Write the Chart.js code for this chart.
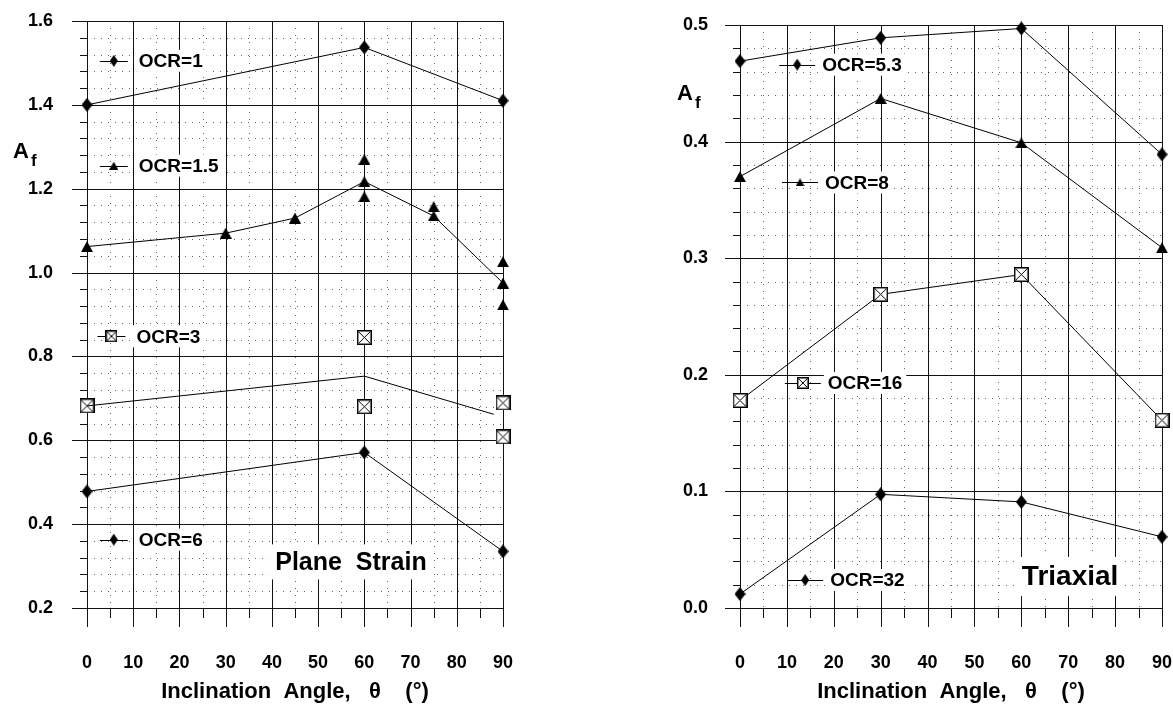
<!DOCTYPE html>
<html>
<head>
<meta charset="utf-8">
<script src="https://cdn.jsdelivr.net/npm/chart.js@4.4.1/dist/chart.umd.min.js"></script>
<style>
  html, body { margin: 0; padding: 0; background: #fff; }
  #wrap { position: relative; width: 1173px; height: 709px; }
  #left { position: absolute; left: 0; top: 0; }
  #right { position: absolute; left: 560px; top: 0; }
</style>
</head>
<body>
<div id="wrap">
  <canvas id="left" width="560" height="709"></canvas>
  <canvas id="right" width="613" height="709"></canvas>
</div>
<script>
// ---- data ----
// plane strain
const ocr1X = [0, 60, 90];
const ocr1Y = [1.40, 1.537, 1.41];
const ocr15X = [0, 30, 45, 60, 75, 90];
const ocr15Y = [1.062, 1.094, 1.13, 1.217, 1.135, 0.975];
const ocr15ExtraX = [60, 60, 75, 90, 90];
const ocr15ExtraY = [1.270, 1.181, 1.157, 1.026, 0.923];
const ocr3X = [0, 60, 60, 90, 90];
const ocr3Y = [0.682, 0.845, 0.680, 0.689, 0.608];
const ocr3TrendX = [0, 60, 88];
const ocr3TrendY = [0.682, 0.753, 0.662];
const ocr6X = [0, 60, 90];
const ocr6Y = [0.478, 0.571, 0.335];

// triaxial
const triX = [0, 30, 60, 90];
const ocr53Y = [0.469, 0.489, 0.497, 0.389];
const ocr8Y = [0.370, 0.437, 0.399, 0.309];
const ocr16Y = [0.178, 0.269, 0.286, 0.161];
const ocr32Y = [0.012, 0.0975, 0.091, 0.061];

const angleTicks = [0, 10, 20, 30, 40, 50, 60, 70, 80, 90];

const FONT = '"Liberation Sans", Arial, Helvetica, sans-serif';

// ---- marker shapes ----
function makeDiamond(w, h) {
    const c = document.createElement('canvas');
    c.width = w; c.height = h;
    const g = c.getContext('2d');
    g.fillStyle = '#000';
    g.beginPath();
    g.moveTo(w / 2, 0); g.lineTo(w, h / 2); g.lineTo(w / 2, h); g.lineTo(0, h / 2);
    g.closePath(); g.fill();
    return c;
}
function makeTriangle(w, h) {
    const c = document.createElement('canvas');
    c.width = w; c.height = h;
    const g = c.getContext('2d');
    g.fillStyle = '#000';
    g.beginPath();
    g.moveTo(w / 2, 0); g.lineTo(w, h); g.lineTo(0, h);
    g.closePath(); g.fill();
    return c;
}
function makeBox(s) {
    const c = document.createElement('canvas');
    c.width = s; c.height = s;
    const g = c.getContext('2d');
    g.fillStyle = '#fff';
    g.fillRect(0, 0, s, s);
    g.strokeStyle = '#000';
    g.lineWidth = 1.5;
    g.strokeRect(0.75, 0.75, s - 1.5, s - 1.5);
    g.lineWidth = 1;
    g.beginPath();
    g.moveTo(2, 2); g.lineTo(s - 2, s - 2);
    g.moveTo(s - 2, 2); g.lineTo(2, s - 2);
    g.stroke();
    return c;
}

const diamond = makeDiamond(11, 14);
const triangle = makeTriangle(12, 11);
const box = makeBox(15);
const diamondSmall = makeDiamond(8, 12);
const triangleSmall = makeTriangle(9, 8);
const boxSmall = makeBox(12);

function series(xs, ys, marker, showLine) {
    return {
        data: xs.map((x, i) => ({ x: x, y: ys[i] })),
        showLine: showLine,
        borderColor: '#000',
        borderWidth: 1,
        backgroundColor: '#000',
        pointStyle: marker || 'circle',
        pointRadius: marker ? 6 : 0,
        clip: false
    };
}

// ---- plugin: graph paper grid ----
const paperGrid = {
    id: 'paperGrid',
    beforeDatasetsDraw(chart, args, o) {
        const { ctx, chartArea: a } = chart;
        const x = chart.scales.x, y = chart.scales.y;
        const line = (x1, y1, x2, y2) => {
            ctx.beginPath(); ctx.moveTo(x1, y1); ctx.lineTo(x2, y2); ctx.stroke();
        };
        const px = v => Math.round(x.getPixelForValue(v)) + 0.5;
        const py = v => Math.round(y.getPixelForValue(v)) + 0.5;
        ctx.save();
        ctx.lineWidth = 1;

        // dotted minor grid
        ctx.strokeStyle = '#666';
        ctx.setLineDash([1, 6]);
        for (let v = 5; v < 90; v += 10) line(px(v), a.top, px(v), a.bottom);
        for (let i = 1; i < o.steps; i++) {
            if (i % 5 === 0) continue;
            const v = o.min + i * o.minor;
            line(a.left, py(v), a.right, py(v));
        }
        ctx.setLineDash([]);

        // solid major grid and ticks
        ctx.strokeStyle = '#111';
        for (let v = 0; v <= 90; v += 10) line(px(v), a.top, px(v), a.bottom + 19);
        for (let v = 5; v < 90; v += 10) line(px(v), a.bottom, px(v), a.bottom + 10);
        for (let i = 0; i <= o.steps; i++) {
            const v = o.min + i * o.minor;
            if (i % 5 === 0) line(a.left - 15, py(v), a.right, py(v));
            else line(a.left - 7, py(v), a.left, py(v));
        }
        ctx.restore();
    }
};

// ---- plugin: in-plot legend keys, panel title, A_f ----
const paperLabels = {
    id: 'paperLabels',
    afterDatasetsDraw(chart, args, o) {
        const { ctx, chartArea: a } = chart;
        const x = chart.scales.x, y = chart.scales.y;
        ctx.save();
        ctx.textBaseline = 'middle';
        ctx.textAlign = 'left';
        ctx.font = 'bold 19px ' + FONT;
        o.keys.forEach(k => {
            const cx = x.getPixelForValue(k.x), cy = y.getPixelForValue(k.y);
            const tx = cx + o.textGap;
            const tw = ctx.measureText(k.text).width;
            ctx.fillStyle = '#fff';
            ctx.fillRect(tx - 4, cy - 11, tw + 8, 22);
            ctx.strokeStyle = '#000';
            ctx.lineWidth = 1;
            ctx.beginPath();
            ctx.moveTo(cx - o.half, Math.round(cy) + 0.5);
            ctx.lineTo(cx + o.half, Math.round(cy) + 0.5);
            ctx.stroke();
            ctx.drawImage(k.marker, cx - k.marker.width / 2, cy - k.marker.height / 2);
            ctx.fillStyle = '#000';
            ctx.fillText(k.text, tx, cy + 1);
        });

        // panel name
        const t = o.title;
        ctx.font = 'bold ' + t.size + 'px ' + FONT;
        ctx.textAlign = 'center';
        const tcx = x.getPixelForValue(t.x), tcy = y.getPixelForValue(t.y);
        const ttw = ctx.measureText(t.text).width;
        ctx.fillStyle = '#fff';
        ctx.fillRect(tcx - ttw / 2 - 6, tcy - t.size * 0.7, ttw + 12, t.size * 1.4);
        ctx.fillStyle = '#000';
        ctx.fillText(t.text, tcx, tcy + 1);

        // axis symbol A_f
        ctx.textAlign = 'left';
        ctx.textBaseline = 'alphabetic';
        ctx.font = 'bold 22px ' + FONT;
        const ax = a.left + o.af.dx, ay = a.top + o.af.dy;
        ctx.fillText('A', ax, ay);
        const aw = ctx.measureText('A').width;
        ctx.font = 'bold 17px ' + FONT;
        ctx.fillText('f', ax + aw + 2, ay + 8);
        ctx.restore();
    }
};

function buildOptions(cfg) {
    return {
        responsive: false,
        animation: false,
        events: [],
        layout: { padding: cfg.padding },
        plugins: {
            legend: { display: false },
            tooltip: { enabled: false },
            paperGrid: cfg.grid,
            paperLabels: cfg.labels
        },
        scales: {
            x: {
                type: 'linear',
                min: 0,
                max: 90,
                grid: { display: false, drawTicks: false },
                border: { display: false },
                afterBuildTicks: s => { s.ticks = angleTicks.map(v => ({ value: v })); },
                ticks: {
                    padding: 44,
                    color: '#000',
                    font: { family: FONT, size: 18, weight: 'bold' }
                },
                title: {
                    display: true,
                    text: 'Inclination  Angle,   θ    (°)',
                    color: '#000',
                    font: { family: FONT, size: 22, weight: 'bold' },
                    padding: { top: 0, bottom: 4 }
                },
                afterFit: s => { s.height = 101; s.paddingLeft = 0; s.paddingRight = 0; }
            },
            y: {
                type: 'linear',
                min: cfg.grid.min,
                max: cfg.grid.min + cfg.grid.steps * cfg.grid.minor,
                grid: { display: false, drawTicks: false },
                border: { display: false },
                ticks: {
                    stepSize: cfg.grid.minor * 5,
                    padding: cfg.yPad,
                    color: '#000',
                    font: { family: FONT, size: 18, weight: 'bold' },
                    callback: v => Number(v).toFixed(1)
                },
                afterFit: s => { s.width = cfg.yWidth; s.paddingTop = 0; s.paddingBottom = 0; }
            }
        }
    };
}

// ---- plane strain panel ----
new Chart(document.getElementById('left'), {
    type: 'scatter',
    data: {
        datasets: [
            series(ocr1X, ocr1Y, diamond, true),
            series(ocr15X, ocr15Y, triangle, true),
            series(ocr15ExtraX, ocr15ExtraY, triangle, false),
            series(ocr3TrendX, ocr3TrendY, null, true),
            series(ocr3X, ocr3Y, box, false),
            series(ocr6X, ocr6Y, diamond, true)
        ]
    },
    options: buildOptions({
        padding: { left: 0, right: 57, top: 21, bottom: 0 },
        yWidth: 87,
        yPad: 34,
        grid: { min: 0.2, minor: 0.04, steps: 35 },
        labels: {
            half: 14,
            textGap: 25,
            keys: [
                { x: 5.8, y: 1.505, text: 'OCR=1', marker: diamondSmall },
                { x: 5.8, y: 1.255, text: 'OCR=1.5', marker: triangleSmall },
                { x: 5.3, y: 0.848, text: 'OCR=3', marker: boxSmall },
                { x: 5.8, y: 0.363, text: 'OCR=6', marker: diamondSmall }
            ],
            title: { text: 'Plane  Strain', x: 57.1, y: 0.31, size: 25 },
            af: { dx: -74, dy: 137 }
        }
    }),
    plugins: [paperGrid, paperLabels]
});

// ---- triaxial panel ----
new Chart(document.getElementById('right'), {
    type: 'scatter',
    data: {
        datasets: [
            series(triX, ocr53Y, diamond, true),
            series(triX, ocr8Y, triangle, true),
            series(triX, ocr16Y, box, true),
            series(triX, ocr32Y, diamond, true)
        ]
    },
    options: buildOptions({
        padding: { left: 0, right: 11, top: 25, bottom: 0 },
        yWidth: 180,
        yPad: 32,
        grid: { min: 0, minor: 0.02, steps: 25 },
        labels: {
            half: 18,
            textGap: 25,
            keys: [
                { x: 12.2, y: 0.466, text: 'OCR=5.3', marker: diamondSmall },
                { x: 12.8, y: 0.365, text: 'OCR=8', marker: triangleSmall },
                { x: 13.4, y: 0.193, text: 'OCR=16', marker: boxSmall },
                { x: 13.9, y: 0.024, text: 'OCR=32', marker: diamondSmall }
            ],
            title: { text: 'Triaxial', x: 70.4, y: 0.027, size: 28 },
            af: { dx: -63, dy: 75 }
        }
    }),
    plugins: [paperGrid, paperLabels]
});
</script>
</body>
</html>
